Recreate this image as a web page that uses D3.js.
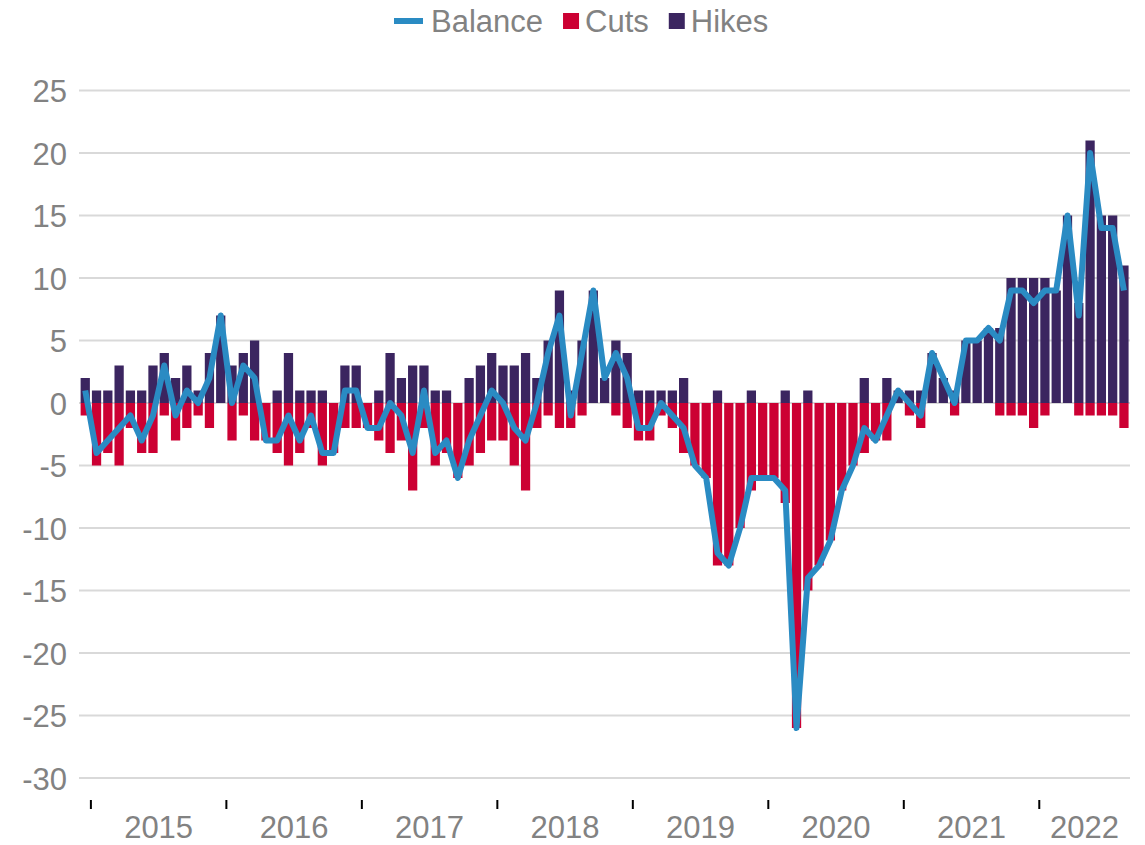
<!DOCTYPE html>
<html><head><meta charset="utf-8">
<script src="https://cdn.jsdelivr.net/npm/d3@7"></script>
<style>
body{margin:0;background:#fff;}
text{font-family:"Liberation Sans",Arial,sans-serif;}
</style>
</head><body>
<svg id="chart" width="1145" height="845"></svg>
<script>
// Monthly categories: Dec 2014 .. Aug 2022
const months = d3.timeMonth.range(new Date(2014, 11, 1), new Date(2022, 8, 1));

const hikes = [2,1,1,3,1,1,3,4,2,3,1,4,7,3,4,5,0,1,4,1,1,1,0,3,3,0,1,4,2,3,3,1,1,0,2,3,4,3,3,4,2,5,9,1,5,9,2,5,4,1,1,1,1,2,0,0,1,0,0,1,0,0,1,0,1,0,0,0,0,2,0,2,1,1,1,4,2,1,5,5,6,6,10,10,10,10,9,15,8,21,15,15,11];
const cuts = [-1,-5,-4,-5,-2,-4,-4,-1,-3,-2,-1,-2,0,-3,-1,-3,-3,-4,-5,-4,-2,-5,-4,-2,-2,-2,-3,-4,-3,-7,-2,-5,-4,-6,-5,-4,-3,-3,-5,-7,-2,-1,-2,-2,-1,0,0,-1,-2,-3,-3,-1,-2,-4,-5,-6,-13,-13,-10,-7,-6,-6,-8,-26,-15,-13,-11,-7,-5,-4,-3,-3,0,-1,-2,0,0,-1,0,0,0,-1,-1,-1,-2,-1,0,0,-1,-1,-1,-1,-2];
const balance = [1,-4,-3,-2,-1,-3,-1,3,-1,1,0,2,7,0,3,2,-3,-3,-1,-3,-1,-4,-4,1,1,-2,-2,0,-1,-4,1,-4,-3,-6,-3,-1,1,0,-2,-3,0,4,7,-1,4,9,2,4,2,-2,-2,0,-1,-2,-5,-6,-12,-13,-10,-6,-6,-6,-7,-26,-14,-13,-11,-7,-5,-2,-3,-1,1,0,-1,4,2,0,5,5,6,5,9,9,8,9,9,15,7,20,14,14,9];

const yearLabels = ["2015","2016","2017","2018","2019","2020","2021","2022"];
const yTicks = [25,20,15,10,5,0,-5,-10,-15,-20,-25,-30];
const seriesNames = ["Balance","Cuts","Hikes"];
const seriesColors = ["#2a8bc3","#cc0033","#3b2560"];

const svg = d3.select("#chart");
const textColor = "#828282";

const x = d3.scaleBand()
  .domain(d3.range(months.length))
  .range([79.6, 1129.6])
  .paddingInner(0.18)
  .paddingOuter(0.09);

const y = d3.scaleLinear().domain([-30, 25]).range([778, 90.5]);

// gridlines
svg.append("g").selectAll("line").data(yTicks).join("line")
  .attr("x1", 79).attr("x2", 1130)
  .attr("y1", d => y(d)).attr("y2", d => y(d))
  .attr("stroke", "#d9d9d9").attr("stroke-width", 2);

// y axis labels (plain hyphen minus as in the reference)
const yAxis = d3.axisLeft(y).tickValues(yTicks).tickSize(0).tickPadding(0)
  .tickFormat(d => String(d));
const gy = svg.append("g").attr("transform", "translate(67,0)").call(yAxis);
gy.select(".domain").remove();
gy.selectAll("text")
  .attr("fill", textColor)
  .style("font-size", "31px")
  .style("font-family", '"Liberation Sans",Arial,sans-serif')
  .attr("dy", "0.36em");

// bars
const barsG = svg.append("g");
barsG.selectAll("rect.hike").data(hikes).join("rect")
  .attr("class", "hike")
  .attr("x", (d, i) => x(i)).attr("width", x.bandwidth())
  .attr("y", d => y(Math.max(0, d)))
  .attr("height", d => Math.abs(y(d) - y(0)))
  .attr("fill", seriesColors[2]);
barsG.selectAll("rect.cut").data(cuts).join("rect")
  .attr("class", "cut")
  .attr("x", (d, i) => x(i)).attr("width", x.bandwidth())
  .attr("y", d => y(Math.max(0, d)))
  .attr("height", d => Math.abs(y(d) - y(0)))
  .attr("fill", seriesColors[1]);

// balance line
const line = d3.line()
  .x((d, i) => x(i) + x.bandwidth() / 2)
  .y(d => y(d));
svg.append("path")
  .datum(balance)
  .attr("d", line)
  .attr("fill", "none")
  .attr("stroke", seriesColors[0])
  .attr("stroke-width", 6)
  .attr("stroke-linejoin", "round")
  .attr("stroke-linecap", "butt");

// x axis: year boundary ticks and centred year labels
const gap = x.step() * x.paddingInner() / 2;
const years = yearLabels.map(label => {
  const idx = months.map((m, i) => i).filter(i => months[i].getFullYear() === +label);
  const x0 = x(idx[0]) - gap;
  const x1 = x(idx[idx.length - 1]) + x.bandwidth() + gap;
  return {label, x0, mid: (x0 + x1) / 2};
});
const gx = svg.append("g");
gx.selectAll("line").data(years).join("line")
  .attr("x1", d => d.x0).attr("x2", d => d.x0)
  .attr("y1", 800).attr("y2", 809)
  .attr("stroke", "#000").attr("stroke-width", 2);
gx.selectAll("text").data(years).join("text")
  .attr("x", d => d.mid).attr("y", 838)
  .attr("text-anchor", "middle")
  .attr("fill", textColor)
  .style("font-size", "31px")
  .text(d => d.label);

// legend
const legend = svg.append("g");
let lx = 394;
seriesNames.forEach((name, k) => {
  if (k === 0) {
    legend.append("line").attr("x1", lx).attr("x2", lx + 29)
      .attr("y1", 21).attr("y2", 21)
      .attr("stroke", seriesColors[0]).attr("stroke-width", 6);
    lx += 29 + 8;
  } else {
    legend.append("rect").attr("x", lx).attr("y", 13).attr("width", 16).attr("height", 16)
      .attr("fill", seriesColors[k]);
    lx += 16 + 6;
  }
  const t = legend.append("text").attr("x", lx).attr("y", 32)
    .attr("fill", textColor).style("font-size", "31px").text(name);
  lx += t.node().getComputedTextLength() + 20;
});
</script>
</body></html>
